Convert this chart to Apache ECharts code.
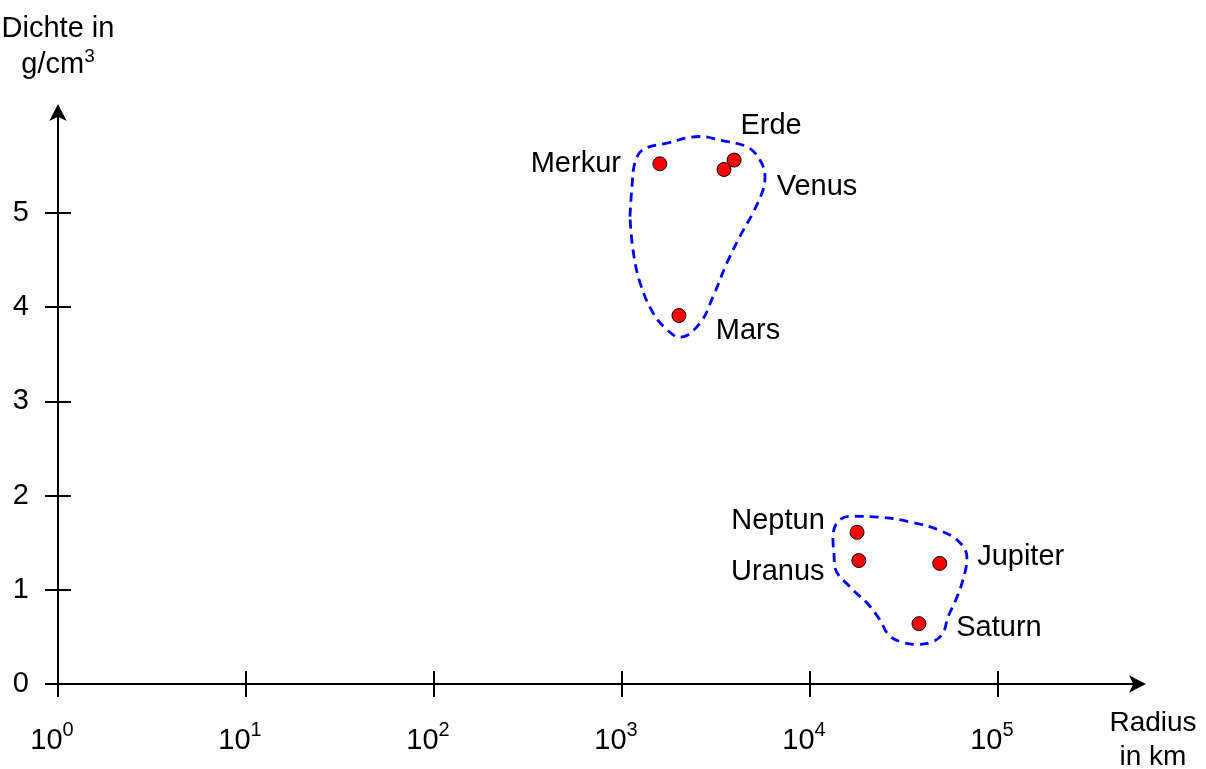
<!DOCTYPE html>
<html>
<head>
<meta charset="utf-8">
<script src="https://cdn.jsdelivr.net/npm/echarts@6/dist/echarts.min.js"></script>
<style>html,body{margin:0;padding:0;background:#fff;}#c{width:1206px;height:769px;}</style>
</head>
<body>
<div id="c"></div>
<script>
// ---- data ----
const planetNames = ['Merkur', 'Venus', 'Erde', 'Mars', 'Neptun', 'Uranus', 'Jupiter', 'Saturn'];
const planetRadiusKm = [1590, 3490, 3950, 2010, 17800, 18200, 49000, 38000];
const planetDensity = [5.52, 5.46, 5.56, 3.91, 1.61, 1.31, 1.28, 0.64];

const xTickValues = [1, 10, 100, 1000, 10000, 100000];
const yTickValues = [0, 1, 2, 3, 4, 5];

// outline of the terrestrial group (radius km, density)
const innerGroupRadius = [1103, 1131, 1172, 1294, 1735, 2600, 3321, 4623, 5420, 5765, 5623, 4977, 4243, 3620, 3048, 2600, 2035, 1735, 1462, 1247, 1144, 1103];
const innerGroupDensity = [4.96, 5.28, 5.53, 5.67, 5.74, 5.81, 5.77, 5.70, 5.56, 5.38, 5.24, 5.00, 4.75, 4.47, 4.11, 3.83, 3.68, 3.76, 3.94, 4.26, 4.61, 4.96];
// outline of the gas giant group
const outerGroupRadius = [13430, 13580, 16330, 20090, 23570, 26000, 30110, 37070, 45100, 50960, 54200, 60530, 66700, 68400, 62800, 49100, 34040, 23570, 16330, 13930, 13250, 13430];
const outerGroupDensity = [1.39, 1.24, 1.03, 0.86, 0.68, 0.53, 0.45, 0.42, 0.45, 0.54, 0.71, 0.92, 1.18, 1.34, 1.50, 1.63, 1.72, 1.77, 1.78, 1.71, 1.53, 1.39];

// ---- label placement (style, not data) ----
const labelOffsets = [[-84, 0], [93, 18], [37, -34], [69, 15], [-79, -11], [-81, 11], [81, -6], [80, 4]];

const FONT = 'Liberation Sans, Arial, sans-serif';
const chart = echarts.init(document.getElementById('c'), null, {renderer: 'canvas'});

const zip = (a, b) => a.map((v, i) => [v, b[i]]);

const xBase = {
  type: 'log', logBase: 10, min: 1, max: 556000,
  splitLine: {show: false}, minorTick: {show: false}
};
const yBase = {
  type: 'value', min: 0, max: 6.07, interval: 1,
  splitLine: {show: false}
};

chart.setOption({
  animation: false,
  backgroundColor: '#fff',
  grid: {left: 58, right: 68, top: 112, bottom: 85, containLabel: false, outerBoundsMode: 'none'},
  xAxis: [
    Object.assign({}, xBase, {
      position: 'bottom',
      axisLine: {show: true, lineStyle: {color: '#000', width: 2}, symbol: ['none', 'arrow'], symbolSize: [13, 17], symbolOffset: [0, 8]},
      axisTick: {show: true, inside: false, length: 13, lineStyle: {color: '#000', width: 2}, customValues: xTickValues},
      axisLabel: {
        show: true, margin: 36, customValues: xTickValues, padding: [0, 12, 0, 0],
        formatter: v => '{b|10}{s|' + Math.round(Math.log10(v)) + '}',
        rich: {
          b: {fontFamily: FONT, fontSize: 29, color: '#000', verticalAlign: 'bottom', lineHeight: 35},
          s: {fontFamily: FONT, fontSize: 20, color: '#000', verticalAlign: 'top', lineHeight: 35}
        }
      },
      name: 'Radius\nin km',
      nameLocation: 'end',
      nameGap: 15,
      nameTextStyle: {fontFamily: FONT, fontSize: 28, color: '#000', align: 'center', verticalAlign: 'top', lineHeight: 34, padding: [22, 0, 0, 0]}
    }),
    Object.assign({}, xBase, {
      position: 'bottom',
      axisLine: {show: false},
      axisTick: {show: true, inside: true, length: 13, lineStyle: {color: '#000', width: 2}, customValues: xTickValues},
      axisLabel: {show: false}
    })
  ],
  yAxis: [
    Object.assign({}, yBase, {
      position: 'left',
      axisLine: {show: true, lineStyle: {color: '#000', width: 2}, symbol: ['none', 'arrow'], symbolSize: [13, 17], symbolOffset: [0, 8]},
      axisTick: {show: true, inside: false, length: 13, lineStyle: {color: '#000', width: 2}, customValues: yTickValues},
      axisLabel: {show: true, margin: 29, customValues: yTickValues, fontFamily: FONT, fontSize: 29, color: '#000'},
      name: 'Dichte in\ng/cm{s|3}',
      nameLocation: 'end',
      nameGap: 29,
      nameTextStyle: {
        fontFamily: FONT, fontSize: 29, color: '#000', align: 'center', lineHeight: 36,
        rich: {s: {fontFamily: FONT, fontSize: 19, color: '#000', verticalAlign: 'top', lineHeight: 36}}
      }
    }),
    Object.assign({}, yBase, {
      position: 'left',
      axisLine: {show: false},
      axisTick: {show: true, inside: true, length: 13, lineStyle: {color: '#000', width: 2}, customValues: yTickValues},
      axisLabel: {show: false}
    })
  ],
  series: [
    {
      type: 'line', xAxisIndex: 0, yAxisIndex: 0,
      data: zip(innerGroupRadius, innerGroupDensity),
      smooth: 0.4, symbol: 'none',
      lineStyle: {color: '#0000ff', width: 2.8, type: [9, 6]},
      silent: true, z: 2
    },
    {
      type: 'line', xAxisIndex: 0, yAxisIndex: 0,
      data: zip(outerGroupRadius, outerGroupDensity),
      smooth: 0.4, symbol: 'none',
      lineStyle: {color: '#0000ff', width: 2.8, type: [9, 6]},
      silent: true, z: 2
    },
    {
      type: 'scatter', xAxisIndex: 0, yAxisIndex: 0,
      symbol: 'circle', symbolSize: 14,
      itemStyle: {color: '#ff0000', borderColor: '#000', borderWidth: 1, opacity: 1},
      z: 3,
      data: planetNames.map((n, i) => ({
        name: n,
        value: [planetRadiusKm[i], planetDensity[i]],
        label: {
          show: true, position: 'inside', offset: labelOffsets[i],
          formatter: n, fontFamily: FONT, fontSize: 29, color: '#000'
        }
      }))
    }
  ]
});
</script>
</body>
</html>
